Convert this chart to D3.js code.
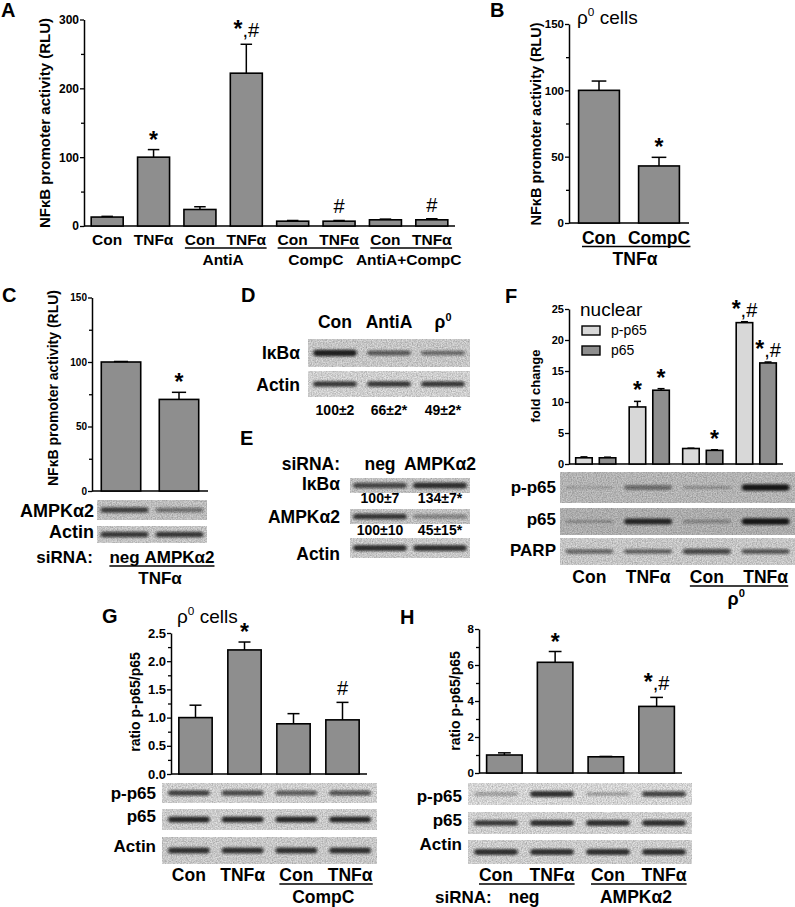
<!DOCTYPE html>
<html><head><meta charset="utf-8">
<script src="https://cdn.jsdelivr.net/npm/d3@7/dist/d3.min.js"></script>
<style>body{margin:0;background:#fff} svg{display:block}</style>
</head><body><svg id="c" width="795" height="907"></svg>
<script>
// ---------------- DATA ----------------
// Panel A
const aCats = ["Con","TNFα","Con","TNFα","Con","TNFα","Con","TNFα"];
const aVals = [13,100,24,222,7,7,9,9];
const aErrs = [1,11,4,42,1,1,1,1.5];
const aMarks = ["","*","","*,#","","#","","#"];
const aGroups = [{name:"AntiA",from:2,to:3},{name:"CompC",from:4,to:5},{name:"AntiA+CompC",from:6,to:7}];
const aTicks = [0,100,200,300], aMinor=[50,150,250];
// Panel B
const bCats = ["Con","CompC"];
const bVals = [100,43];
const bErrs = [7,6.5];
const bMarks = ["","*"];
const bTicks = [0,50,100,150], bMinor=[25,75,125];
// Panel C
const cCats = ["neg","AMPKα2"];
const cVals = [100,71];
const cErrs = [0.4,5.5];
const cMarks = ["","*"];
const cTicks = [0,50,100,150], cMinor=[25,75,125];
const cBlots = [{label:"AMPKα2",bands:[0.75,0.45],bg:"#d3d3d3"},{label:"Actin",bands:[0.8,0.8],bg:"#dadada"}];
// Panel D
const dLanes = ["Con","AntiA","ρ0"];
const dBlots = [{label:"IκBα",bands:[0.95,0.6,0.5],bg:"#dcdcdc"},{label:"Actin",bands:[0.8,0.8,0.8],bg:"#e6e6e6"}];
const dQuant = ["100±2","66±2*","49±2*"];
// Panel E
const eLanes = ["neg","AMPKα2"];
const eBlots = [{label:"IκBα",bands:[0.7,0.85],bg:"#d6d6d6"},{label:"AMPKα2",bands:[0.8,0.35],bg:"#d6d6d6"},{label:"Actin",bands:[0.85,0.85],bg:"#dedede"}];
const eQuant = [["100±7","134±7*"],["100±10","45±15*"]];
// Panel F
const fGroups = ["Con","TNFα","Con","TNFα"];
const fSeries = ["p-p65","p65"];
const fPP65 = [1.0,9.2,2.5,22.8];
const fPP65Err = [0.15,0.9,0.05,0.15];
const fP65 = [1.0,11.9,2.2,16.3];
const fP65Err = [0.1,0.25,0.1,0.15];
const fMarksPP65 = ["","*","","*,#"];
const fMarksP65 = ["","*","*","*,#"];
const fTicks = [0,5,10,15,20,25];
const fBlots = [{label:"p-p65",bands:[0.05,0.45,0.15,1.0],bg:"#c8c8c8"},{label:"p65",bands:[0.15,0.9,0.25,1.0],bg:"#c0c0c0"},{label:"PARP",bands:[0.5,0.55,0.7,0.6],bg:"#dcdcdc"}];
// Panel G
const gCats = ["Con","TNFα","Con","TNFα"];
const gVals = [1.0,2.2,0.89,0.96];
const gErrs = [0.22,0.14,0.18,0.31];
const gMarks = ["","*","","#"];
const gTicks = [0,0.5,1.0,1.5,2.0,2.5], gMinor=[0.25,0.75,1.25,1.75,2.25];
const gBlots = [{label:"p-p65",bands:[0.75,0.7,0.6,0.65],bg:"#e6e6e6"},{label:"p65",bands:[0.9,0.9,0.9,0.9],bg:"#e2e2e2"},{label:"Actin",bands:[0.85,0.85,0.85,0.85],bg:"#dedede"}];
// Panel H
const hCats = ["Con","TNFα","Con","TNFα"];
const hVals = [1.0,6.15,0.9,3.7];
const hErrs = [0.12,0.6,0.02,0.5];
const hMarks = ["","*","","*,#"];
const hTicks = [0,2,4,6,8], hMinor=[1,3,5,7];
const hBlots = [{label:"p-p65",bands:[0.25,0.85,0.2,0.75],bg:"#ececec"},{label:"p65",bands:[0.8,0.85,0.85,0.85],bg:"#e6e6e6"},{label:"Actin",bands:[0.85,0.85,0.85,0.85],bg:"#e2e2e2"}];

// ---------------- HELPERS ----------------
const FONT = '"Liberation Sans", Arial, Helvetica, sans-serif';
const BAR = "#8e8e8e", BAR_LIGHT = "#d8d8d8";
const svg = d3.select("#c");
const defs = svg.append("defs");
const bl = defs.append("filter").attr("id","blur").attr("x","-20%").attr("y","-150%").attr("width","140%").attr("height","400%");
bl.append("feGaussianBlur").attr("stdDeviation","1.4 0.8");
const nz = defs.append("filter").attr("id","noise").attr("x",0).attr("y",0).attr("width","100%").attr("height","100%");
nz.append("feTurbulence").attr("type","fractalNoise").attr("baseFrequency","0.8").attr("numOctaves",2).attr("seed",4);
nz.append("feColorMatrix").attr("type","matrix").attr("values","0 0 0 0 0  0 0 0 0 0  0 0 0 0 0  0.45 0 0 0 -0.12");

function T(x, y, s, o = {}) {
  return svg.append("text").attr("x", x).attr("y", y).text(s)
    .attr("font-family", FONT).attr("font-size", o.size || 14)
    .attr("font-weight", o.weight || "bold").attr("text-anchor", o.anchor || "start").attr("fill", "#000");
}
function rho(x, y, size, suffix, anchor, weight) {
  const t = svg.append("text").attr("x", x).attr("y", y).attr("font-family", FONT)
    .attr("font-size", size).attr("font-weight", weight || "normal").attr("text-anchor", anchor || "start");
  t.append("tspan").text("ρ");
  t.append("tspan").text("0").attr("font-size", size * 0.62).attr("dy", -size * 0.42);
  if (suffix) t.append("tspan").text(suffix).attr("dy", size * 0.42);
  return t;
}
function mark(x, y, s) {
  if (!s) return;
  const t = svg.append("text").attr("x", x).attr("y", y).attr("text-anchor", "middle").attr("font-family", FONT);
  for (const ch of s) {
    if (ch === "*") t.append("tspan").text("*").attr("font-size", 23).attr("font-weight", "bold");
    else t.append("tspan").text(ch).attr("font-size", 20).attr("font-weight", "normal");
  }
}
function underlineLabels(a, b, y) {
  const ba = a.node().getBBox(), bb = b.node().getBBox();
  svg.append("line").attr("x1", ba.x).attr("x2", bb.x + bb.width).attr("y1", y).attr("y2", y)
    .attr("stroke", "#000").attr("stroke-width", 1.6);
}
function axis(o, y) {
  const ax = svg.append("g").attr("transform", `translate(${o.x0},0)`)
    .call(d3.axisLeft(y).tickValues(o.major.concat(o.minor || [])).tickSize(4).tickSizeOuter(0)
      .tickFormat(d => o.major.includes(d) ? o.fmt(d) : ""));
  ax.attr("font-family", FONT).attr("font-size", o.fs).attr("font-weight", "bold");
  ax.select(".domain").attr("stroke-width", 1.5);
  ax.selectAll(".tick line").attr("stroke-width", 1.3).filter(d => !o.major.includes(d)).attr("x2", -3);
  ax.selectAll(".tick text").attr("x", -5);
  svg.append("line").attr("x1", o.x0).attr("x2", o.x1).attr("y1", y(0)).attr("y2", y(0))
    .attr("stroke", "#000").attr("stroke-width", 1.5);
}
function barChart(o) {
  const y = d3.scaleLinear().domain(o.domain).range([o.y0, o.y1]);
  const x = d3.scaleBand().domain(d3.range(o.vals.length)).range([o.x0, o.x1]).paddingInner(o.pad).paddingOuter(o.pad / 2);
  axis(o, y);
  const g = svg.append("g");
  g.selectAll("rect").data(o.vals).join("rect")
    .attr("x", (d, i) => x(i)).attr("width", x.bandwidth())
    .attr("y", d => y(d)).attr("height", d => y(0) - y(d))
    .attr("fill", BAR).attr("stroke", "#000").attr("stroke-width", 1.6);
  const cap = x.bandwidth() * 0.18;
  o.vals.forEach((v, i) => {
    const cx = x(i) + x.bandwidth() / 2, top = y(v + o.errs[i]);
    g.append("line").attr("x1", cx).attr("x2", cx).attr("y1", y(v)).attr("y2", top).attr("stroke", "#000").attr("stroke-width", 1.5);
    g.append("line").attr("x1", cx - cap).attr("x2", cx + cap).attr("y1", top).attr("y2", top).attr("stroke", "#000").attr("stroke-width", 1.5);
    const m = o.marks[i];
    if (m) mark(cx, top - (m.includes("#") ? 7 : 2), m);
  });
  return { x, y };
}
function blot(x0, x1, y0, y1, b, pad) {
  const g = svg.append("g");
  g.append("rect").attr("x", x0).attr("y", y0).attr("width", x1 - x0).attr("height", y1 - y0).attr("fill", b.bg);
  g.append("rect").attr("x", x0).attr("y", y0).attr("width", x1 - x0).attr("height", y1 - y0).attr("filter", "url(#noise)");
  const xs = d3.scaleBand().domain(d3.range(b.bands.length)).range([x0, x1]).paddingInner(pad).paddingOuter(pad / 2);
  const cy = (y0 + y1) / 2;
  const h = d => 2.5 + d * 4;
  g.selectAll(".band").data(b.bands).join("rect").attr("class", "band")
    .attr("x", (d, i) => xs(i) + 2).attr("width", xs.bandwidth() - 4)
    .attr("y", d => cy - h(d) / 2).attr("height", h).attr("rx", d => h(d) / 2)
    .attr("fill", "#111").attr("fill-opacity", d => 0.12 + d * 0.82).attr("filter", "url(#blur)");
  return xs;
}

// ---------------- PANEL LETTERS ----------------
[["A",1,17],["B",490,17],["C",2,302],["D",241,302],["E",240,445],["F",505,303],["G",102,623],["H",400,624]]
  .forEach(([s, x, y]) => T(x, y, s, { size: 20 }));

// ---------------- PANEL A ----------------
{
  const o = { x0: 84, x1: 455, y0: 226, y1: 19.5, domain: [0, 300], major: aTicks, minor: aMinor, fmt: d => d, fs: 12,
    vals: aVals, errs: aErrs, marks: aMarks, pad: 0.31 };
  const { x } = barChart(o);
  const labs = aCats.map((c, i) => T(x(i) + x.bandwidth() / 2, 244.5, c, { size: 15.5, anchor: "middle" }));
  aGroups.forEach(gr => {
    underlineLabels(labs[gr.from], labs[gr.to], 248);
    const cx = (x(gr.from) + x(gr.to) + x.bandwidth()) / 2;
    T(cx, 265, gr.name, { size: 15.5, anchor: "middle" });
  });
  T(0, 0, "NFκB promoter activity (RLU)", { size: 15, anchor: "middle" }).attr("transform", "translate(50,123) rotate(-90)");
}
// ---------------- PANEL B ----------------
{
  const o = { x0: 569, x1: 689, y0: 223, y1: 24, domain: [0, 150], major: bTicks, minor: bMinor, fmt: d => d, fs: 11.5,
    vals: bVals, errs: bErrs, marks: bMarks, pad: 0.32 };
  const { x } = barChart(o);
  const labs = bCats.map((c, i) => T(x(i) + x.bandwidth() / 2, 244, c, { size: 17.5, anchor: "middle" }));
  underlineLabels(labs[0], labs[1], 246.5);
  T((o.x0 + o.x1) / 2 + 6, 265, "TNFα", { size: 17.5, anchor: "middle" });
  rho(577, 24, 19, " cells");
  T(0, 0, "NFκB promoter activity (RLU)", { size: 14.5, anchor: "middle" }).attr("transform", "translate(541,124) rotate(-90)");
}
// ---------------- PANEL C ----------------
{
  const o = { x0: 92, x1: 208, y0: 491, y1: 297.5, domain: [0, 150], major: cTicks, minor: cMinor, fmt: d => d, fs: 10,
    vals: cVals, errs: cErrs, marks: cMarks, pad: 0.32 };
  barChart(o);
  const ys = [[500, 520, 517], [526, 543, 538]];
  let xs;
  cBlots.forEach((b, i) => {
    xs = blot(97, 207, ys[i][0], ys[i][1], b, 0.06);
    T(94, ys[i][2], b.label, { size: 18, anchor: "end" });
  });
  T(93, 563, "siRNA:", { size: 17, anchor: "end" });
  const labs = cCats.map((c, i) => T(xs(i) + xs.bandwidth() / 2, 563, c, { size: 17, anchor: "middle" }));
  underlineLabels(labs[0], labs[1], 566);
  T(160, 584, "TNFα", { size: 17, anchor: "middle" });
  T(0, 0, "NFκB promoter activity (RLU)", { size: 14, anchor: "middle" }).attr("transform", "translate(58,388) rotate(-90)");
}
// ---------------- PANEL D ----------------
{
  const ys = [[339, 367, 359], [371, 397, 391]];
  let xs;
  dBlots.forEach((b, i) => {
    xs = blot(308, 470, ys[i][0], ys[i][1], b, 0.12);
    T(300, ys[i][2], b.label, { size: 17.5, anchor: "end" });
  });
  dLanes.forEach((l, i) => {
    const cx = xs(i) + xs.bandwidth() / 2;
    if (l === "ρ0") rho(cx, 328, 17.5, "", "middle", "bold");
    else T(cx, 328, l, { size: 17.5, anchor: "middle" });
    T(cx, 415, dQuant[i], { size: 14, anchor: "middle" });
  });
}
// ---------------- PANEL E ----------------
{
  const ys = [[478, 493, 490], [509, 524, 523], [538, 558, 560]];
  let xs;
  eBlots.forEach((b, i) => {
    xs = blot(350, 470, ys[i][0], ys[i][1], b, 0.04);
    T(340, ys[i][2], b.label, { size: 17.5, anchor: "end" });
  });
  T(340, 470, "siRNA:", { size: 17.5, anchor: "end" });
  eLanes.forEach((l, i) => {
    const cx = xs(i) + xs.bandwidth() / 2;
    T(cx, 470, l, { size: 17.5, anchor: "middle" });
    T(cx, 503, eQuant[0][i], { size: 14, anchor: "middle" });
    T(cx, 535, eQuant[1][i], { size: 14, anchor: "middle" });
  });
}
// ---------------- PANEL F ----------------
{
  const y = d3.scaleLinear().domain([0, 25]).range([464, 309]);
  const o = { x0: 569, x1: 783, major: fTicks, minor: [], fmt: d => d, fs: 11 };
  axis(o, y);
  const x = d3.scaleBand().domain(d3.range(fGroups.length)).range([569, 783]).paddingInner(0.25).paddingOuter(0.125);
  const xi = d3.scaleBand().domain(fSeries).range([0, x.bandwidth()]).paddingInner(0.3);
  const series = [{ k: "p-p65", v: fPP65, e: fPP65Err, m: fMarksPP65, fill: BAR_LIGHT }, { k: "p65", v: fP65, e: fP65Err, m: fMarksP65, fill: BAR }];
  series.forEach(s => {
    s.v.forEach((v, i) => {
      const bx = x(i) + xi(s.k), bw = xi.bandwidth(), cx = bx + bw / 2, top = y(v + s.e[i]);
      svg.append("rect").attr("x", bx).attr("width", bw).attr("y", y(v)).attr("height", y(0) - y(v))
        .attr("fill", s.fill).attr("stroke", "#000").attr("stroke-width", 1.6);
      svg.append("line").attr("x1", cx).attr("x2", cx).attr("y1", y(v)).attr("y2", top).attr("stroke", "#000").attr("stroke-width", 1.5);
      svg.append("line").attr("x1", cx - 3.5).attr("x2", cx + 3.5).attr("y1", top).attr("y2", top).attr("stroke", "#000").attr("stroke-width", 1.5);
      if (s.m[i]) mark(cx, top - (s.m[i].includes("#") ? 5 : 3), s.m[i]);
    });
  });
  // legend
  T(580, 316, "nuclear", { size: 19, weight: "normal" });
  series.forEach((s, i) => {
    svg.append("rect").attr("x", 582).attr("y", 326 + i * 20).attr("width", 18).attr("height", 9)
      .attr("fill", s.fill).attr("stroke", "#000").attr("stroke-width", 1.4);
    T(611, 335 + i * 20, s.k, { size: 14, weight: "normal" });
  });
  T(0, 0, "fold change", { size: 13, anchor: "middle" }).attr("transform", "translate(540,386) rotate(-90)");
  const ys = [[472, 503, 493], [508, 535, 525], [538, 565, 556]];
  let xs;
  fBlots.forEach((b, i) => {
    xs = blot(560, 795, ys[i][0], ys[i][1], b, 0.12);
    T(556, ys[i][2], b.label, { size: 17, anchor: "end" });
  });
  const labs = fGroups.map((c, i) => T(xs(i) + xs.bandwidth() / 2, 583, c, { size: 17.5, anchor: "middle" }));
  underlineLabels(labs[2], labs[3], 586);
  rho((xs(2) + xs(3) + xs.bandwidth()) / 2, 605, 18, "", "middle", "bold");
}
// ---------------- PANEL G ----------------
{
  const o = { x0: 170, x1: 367, y0: 774, y1: 633, domain: [0, 2.5], major: gTicks, minor: gMinor, fmt: d3.format(".1f"), fs: 13,
    vals: gVals, errs: gErrs, marks: gMarks, pad: 0.32 };
  barChart({ ...o, x0: 171 });
  rho(177, 623, 19, " cells");
  T(0, 0, "ratio p-p65/p65", { size: 14, anchor: "middle" }).attr("transform", "translate(140,702) rotate(-90)");
  const ys = [[783, 803, 799], [809, 830, 822], [837, 864, 852]];
  let xs;
  gBlots.forEach((b, i) => {
    xs = blot(162, 377, ys[i][0], ys[i][1], b, 0.15);
    T(156, ys[i][2], b.label, { size: 17, anchor: "end" });
  });
  const labs = gCats.map((c, i) => T(xs(i) + xs.bandwidth() / 2, 881, c, { size: 17.5, anchor: "middle" }));
  underlineLabels(labs[2], labs[3], 884);
  T((xs(2) + xs(3) + xs.bandwidth()) / 2, 903, "CompC", { size: 17.5, anchor: "middle" });
}
// ---------------- PANEL H ----------------
{
  const o = { x0: 479, x1: 682, y0: 773, y1: 629, domain: [0, 8], major: hTicks, minor: hMinor, fmt: d => d, fs: 11.5,
    vals: hVals, errs: hErrs, marks: hMarks, pad: 0.30 };
  barChart(o);
  T(0, 0, "ratio p-p65/p65", { size: 14, anchor: "middle" }).attr("transform", "translate(460,701) rotate(-90)");
  const ys = [[783, 805, 802], [812, 834, 826], [840, 864, 850]];
  let xs;
  hBlots.forEach((b, i) => {
    xs = blot(468, 692, ys[i][0], ys[i][1], b, 0.15);
    T(462, ys[i][2], b.label, { size: 17, anchor: "end" });
  });
  const labs = hCats.map((c, i) => T(xs(i) + xs.bandwidth() / 2, 881, c, { size: 17.5, anchor: "middle" }));
  underlineLabels(labs[0], labs[1], 884);
  underlineLabels(labs[2], labs[3], 884);
  T(435, 903, "siRNA:", { size: 17, anchor: "start" });
  T((xs(0) + xs(1) + xs.bandwidth()) / 2, 903, "neg", { size: 17.5, anchor: "middle" });
  T((xs(2) + xs(3) + xs.bandwidth()) / 2, 903, "AMPKα2", { size: 17.5, anchor: "middle" });
}
</script></body></html>
